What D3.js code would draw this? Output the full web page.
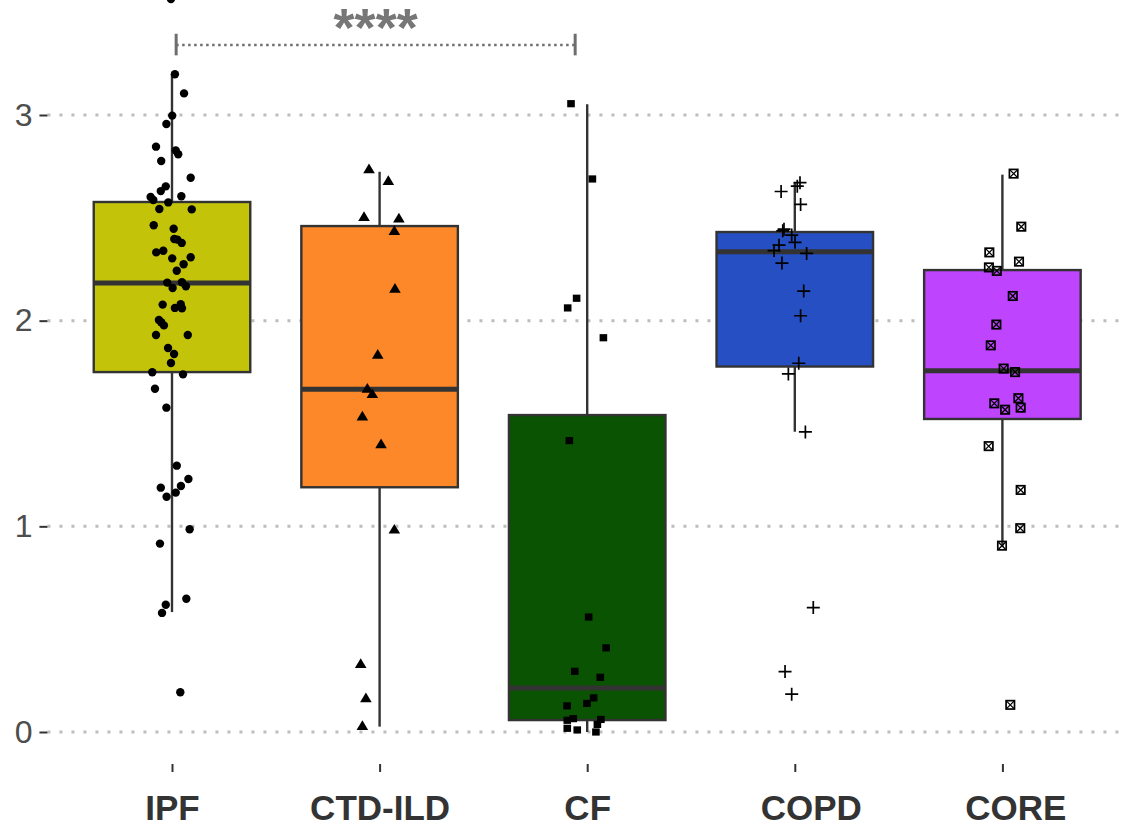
<!DOCTYPE html>
<html><head><meta charset="utf-8">
<script src="https://cdn.jsdelivr.net/npm/d3@7"></script>
<style>body{margin:0;background:#fff}</style>
</head><body><svg id="chart" width="1122" height="829"></svg>
<script>
// ---------------- DATA ----------------
const categories = ["IPF", "CTD-ILD", "CF", "COPD", "CORE"];
const q1          = [1.750, 1.190, 0.058, 1.777, 1.522];
const median      = [2.183, 1.667, 0.214, 2.335, 1.756];
const q3          = [2.577, 2.460, 1.541, 2.431, 2.246];
const whiskerLow  = [0.583, 0.026, 0.000, 1.460, 0.900];
const whiskerHigh = [3.199, 2.724, 3.052, 2.670, 2.710];
const yTicks = [0, 1, 2, 3];

const ipfValues = [3.564, 3.198, 3.105, 2.997, 2.956, 2.846, 2.828, 2.809, 2.776, 2.695, 2.653, 2.630, 2.605, 2.601, 2.587, 2.575, 2.543, 2.541, 2.464, 2.447, 2.397, 2.394, 2.378, 2.332, 2.340, 2.303, 2.308, 2.274, 2.243, 2.185, 2.187, 2.159, 2.167, 2.078, 2.062, 2.080, 2.060, 2.003, 1.992, 1.977, 1.930, 1.930, 1.867, 1.838, 1.794, 1.749, 1.739, 1.669, 1.577, 1.295, 1.230, 1.196, 1.188, 1.164, 1.144, 0.986, 0.916, 0.648, 0.619, 0.579, 0.193];
const ipfJitter = [-0.005, 0.014, 0.058, 0.001, -0.027, -0.077, 0.018, 0.030, -0.052, 0.090, -0.030, -0.054, 0.045, -0.103, -0.090, -0.018, -0.061, 0.095, -0.088, 0.008, 0.011, 0.026, 0.047, -0.076, -0.042, 0.001, 0.090, 0.056, 0.023, -0.023, 0.048, 0.003, 0.067, -0.045, 0.014, 0.042, 0.048, -0.063, -0.052, -0.039, -0.077, 0.076, -0.019, 0.010, -0.005, -0.095, 0.053, -0.082, -0.027, 0.023, 0.079, 0.043, -0.054, 0.018, -0.026, 0.085, -0.058, 0.069, -0.030, -0.048, 0.040];

const ctdValues = [2.737, 2.680, 2.505, 2.498, 2.437, 2.156, 1.835, 1.670, 1.644, 1.535, 1.400, 0.985, 0.332, 0.165, 0.030];
const ctdJitter = [-0.051, 0.042, -0.075, 0.093, 0.071, 0.074, -0.009, -0.059, -0.035, -0.083, 0.007, 0.071, -0.091, -0.066, -0.083];

const cfValues = [3.055, 2.689, 2.109, 2.062, 1.917, 1.417, 0.559, 0.409, 0.295, 0.266, 0.166, 0.139, 0.127, 0.057, 0.065, 0.061, 0.037, 0.018, 0.010, 0.000];
const cfJitter = [-0.078, 0.025, -0.051, -0.094, 0.078, -0.086, 0.007, 0.091, -0.060, 0.063, 0.031, -0.001, -0.097, -0.096, -0.067, 0.066, 0.049, -0.096, -0.048, 0.042];

const copdValues = [2.671, 2.654, 2.628, 2.565, 2.445, 2.437, 2.416, 2.381, 2.367, 2.341, 2.327, 2.280, 2.144, 2.024, 1.793, 1.741, 1.459, 0.605, 0.294, 0.184];
const copdJitter = [0.025, 0.012, -0.066, 0.028, -0.052, -0.058, -0.015, 0.001, -0.076, -0.100, 0.057, -0.062, 0.043, 0.028, 0.019, -0.031, 0.051, 0.089, -0.047, -0.015];

const coreValues = [2.715, 2.457, 2.332, 2.287, 2.259, 2.242, 2.120, 1.981, 1.880, 1.767, 1.750, 1.623, 1.577, 1.598, 1.567, 1.390, 1.177, 0.991, 0.906, 0.132];
const coreJitter = [0.054, 0.091, -0.063, 0.080, -0.065, -0.027, 0.050, -0.029, -0.056, 0.006, 0.061, 0.077, 0.088, -0.039, 0.013, -0.066, 0.088, 0.086, -0.002, 0.038];

const sigGroups = ["IPF", "CF"];
const sigLabel = "****";

// ---------------- STYLE ----------------
const boxColors = ["#C3C40A", "#FD8829", "#0A5302", "#264FC4", "#BE44FD"];
const shapes = ["circle", "triangle", "square", "plus", "boxcross"];
const labelShift = [0, 0, 0, 16, 13];

const svg = d3.select("#chart");

const x = d3.scalePoint().domain(categories).range([172, 1002.4]);
const step = x.step();
const y = d3.scaleLinear().domain([0, 3]).range([732, 115]);
const panelLeft = 172 - 0.6 * step, panelRight = 1002.4 + 0.6 * step, panelBottom = 764;

// gridlines
svg.append("g").selectAll("line").data(yTicks).join("line")
  .attr("x1", panelLeft).attr("x2", panelRight)
  .attr("y1", d => y(d)).attr("y2", d => y(d))
  .attr("stroke", "#BDBDBD").attr("stroke-width", 3)
  .attr("stroke-dasharray", "3 9");

// y axis
const yAxis = svg.append("g").attr("transform", `translate(${panelLeft},0)`)
  .call(d3.axisLeft(y).tickValues(yTicks).tickFormat(d3.format("d")).tickSize(8).tickPadding(7));
yAxis.select(".domain").remove();
yAxis.selectAll(".tick line").attr("stroke", "#333").attr("stroke-width", 2);
yAxis.selectAll(".tick text").attr("fill", "#4D4D4D")
  .style("font-family", "'Liberation Sans', Arial, sans-serif").style("font-size", "32px");

// x axis
const xAxis = svg.append("g").attr("transform", `translate(0,${panelBottom})`)
  .call(d3.axisBottom(x).tickSize(8).tickPadding(23));
xAxis.select(".domain").remove();
xAxis.selectAll(".tick line").attr("stroke", "#333").attr("stroke-width", 2);
xAxis.selectAll(".tick text").attr("fill", "#333")
  .attr("dx", (d, i) => labelShift[i])
  .style("font-family", "'Liberation Sans', Arial, sans-serif").style("font-size", "35px").style("font-weight", "bold");

// boxes
const boxW = step * 0.754;
const g = svg.append("g");
categories.forEach((c, i) => {
  const cx = x(c);
  g.append("line").attr("x1", cx).attr("x2", cx).attr("y1", y(whiskerHigh[i])).attr("y2", y(q3[i]))
    .attr("stroke", "#333").attr("stroke-width", 2.4);
  g.append("line").attr("x1", cx).attr("x2", cx).attr("y1", y(q1[i])).attr("y2", y(whiskerLow[i]))
    .attr("stroke", "#333").attr("stroke-width", 2.4);
  g.append("rect").attr("x", cx - boxW / 2).attr("width", boxW)
    .attr("y", y(q3[i])).attr("height", y(q1[i]) - y(q3[i]))
    .attr("fill", boxColors[i]).attr("stroke", "#333").attr("stroke-width", 2.4);
  g.append("line").attr("x1", cx - boxW / 2).attr("x2", cx + boxW / 2)
    .attr("y1", y(median[i])).attr("y2", y(median[i]))
    .attr("stroke", "#333").attr("stroke-width", 5);
});

// points
const groups = [
  [ipfValues, ipfJitter], [ctdValues, ctdJitter], [cfValues, cfJitter],
  [copdValues, copdJitter], [coreValues, coreJitter]
];
const pg = svg.append("g");
groups.forEach(([vals, jit], i) => {
  const cx = x(categories[i]);
  vals.forEach((v, k) => {
    const px = cx + jit[k] * step, py = y(v);
    const s = shapes[i];
    if (s === "circle") {
      pg.append("circle").attr("cx", px).attr("cy", py).attr("r", 4.2).attr("fill", "#000");
    } else if (s === "triangle") {
      pg.append("path").attr("d", `M${px},${py - 5.5}L${px + 5.8},${py + 4.2}L${px - 5.8},${py + 4.2}Z`).attr("fill", "#000");
    } else if (s === "square") {
      pg.append("rect").attr("x", px - 3.8).attr("y", py - 3.6).attr("width", 7.6).attr("height", 7.2).attr("fill", "#000");
    } else if (s === "plus") {
      pg.append("path").attr("d", `M${px - 6.5},${py}H${px + 6.5}M${px},${py - 6.5}V${py + 6.5}`)
        .attr("stroke", "#000").attr("stroke-width", 1.7).attr("fill", "none");
    } else {
      pg.append("rect").attr("x", px - 4.2).attr("y", py - 4.2).attr("width", 8.4).attr("height", 8.4)
        .attr("fill", "none").attr("stroke", "#000").attr("stroke-width", 1.7);
      pg.append("path").attr("d", `M${px - 4},${py - 4}L${px + 4},${py + 4}M${px + 4},${py - 4}L${px - 4},${py + 4}`)
        .attr("stroke", "#000").attr("stroke-width", 1.3);
    }
  });
});

// significance bracket
const bx1 = x(sigGroups[0]) + 0.02 * step, bx2 = x(sigGroups[1]) - 0.058 * step;
const by = y(3.34);
const sg = svg.append("g");
sg.append("line").attr("x1", bx1).attr("x2", bx2).attr("y1", by).attr("y2", by)
  .attr("stroke", "#6E6E6E").attr("stroke-width", 2.5).attr("stroke-dasharray", "2.5 3.5");
[bx1, bx2].forEach(bx => sg.append("line").attr("x1", bx).attr("x2", bx)
  .attr("y1", y(3.395)).attr("y2", y(3.29)).attr("stroke", "#6E6E6E").attr("stroke-width", 3));
sg.append("text").attr("x", (bx1 + bx2) / 2).attr("y", y(3.39) + 11)
  .attr("text-anchor", "middle").attr("fill", "#777")
  .style("font-family", "'Liberation Sans', Arial, sans-serif").style("font-size", "54px").style("font-weight", "bold")
  .text(sigLabel);
</script></body></html>
